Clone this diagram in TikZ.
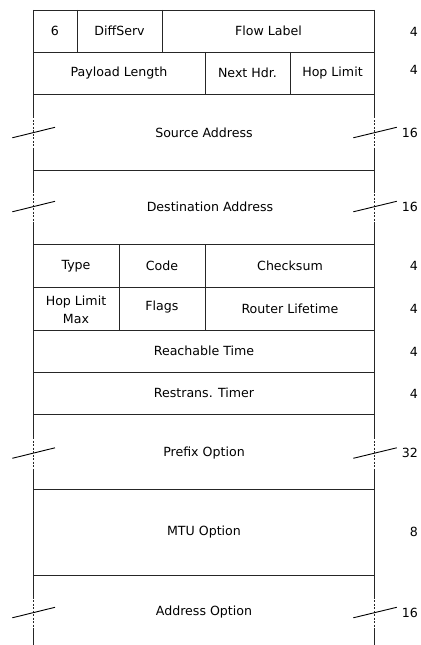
\documentclass[tikz,border=0pt]{standalone}
\usepackage{fontspec}
\setmainfont{DejaVu Sans}
\newcommand\fsz{\fontsize{12.6bp}{18bp}\selectfont}
\tikzset{
  frame/.style={line width=0.9bp, draw=black!85},
  gapline/.style={line width=0.9bp, draw=black!85, dash pattern=on 2bp off 1.5bp},
  slashmark/.style={line width=0.9bp, draw=black},
  lbl/.style={font=\fsz, inner sep=0pt, align=center},
  sizelbl/.style={font=\fsz, inner sep=0pt, anchor=east}
}
\begin{document}
\begin{tikzpicture}[x=1bp,y=-1bp]
\useasboundingbox (0,0) rectangle (420,645);
% horizontal lines
\foreach \yy in {10,52,94,170,244,287,330,372,414,489,575}
  \draw[frame] (33,\yy) -- (374.5,\yy);
% side lines: solid parts
\foreach \xx in {33,374.5}{
  \draw[frame] (\xx,10) -- (\xx,116.5);
  \draw[gapline] (\xx,116.5) -- (\xx,148.5);
  \draw[frame] (\xx,148.5) -- (\xx,190.5);
  \draw[gapline] (\xx,190.5) -- (\xx,222.5);
  \draw[frame] (\xx,222.5) -- (\xx,437);
  \draw[gapline] (\xx,437) -- (\xx,469);
  \draw[frame] (\xx,469) -- (\xx,596.5);
  \draw[gapline] (\xx,596.5) -- (\xx,628.5);
  \draw[frame] (\xx,628.5) -- (\xx,645);
}
% inner vertical lines
\draw[frame] (77,10) -- (77,52);
\draw[frame] (162,10) -- (162,52);
\draw[frame] (205,52) -- (205,94);
\draw[frame] (290,52) -- (290,94);
\draw[frame] (119,244) -- (119,330);
\draw[frame] (205,244) -- (205,330);
% slash marks
\foreach \c in {132.5,206.5,453,612.5}{
  \draw[slashmark] (12.3,\c+5.3) -- (55,\c-5.2);
  \draw[slashmark] (353.3,\c+5.3) -- (396.7,\c-5.2);
}
% field labels
\node[lbl] (ver) at (55,31) {6};
\node[lbl] (ds) at (119.5,31) {DiffServ};
\node[lbl] (fl) at (268.5,31) {Flow Label};
\node[lbl] (pl) at (119,73) {Payload Length};
\node[lbl] (nh) at (247.5,73) {Next Hdr.};
\node[lbl] (hl) at (332.5,73) {Hop Limit};
\node[lbl] (src) at (204,132.5) {Source Address};
\node[lbl] (dst) at (210,206.5) {Destination Address};
\node[lbl] (type) at (76,266) {Type};
\node[lbl] (code) at (162,266) {Code};
\node[lbl] (cks) at (290,266) {Checksum};
\node[lbl] (hlm) at (76,309.5) {Hop Limit\\Max};
\node[lbl] (flags) at (162,307) {Flags};
\node[lbl] (rlt) at (290,308.5) {Router Lifetime};
\node[lbl] (rt) at (204,351) {Reachable Time};
\node[lbl] (rtt) at (204,393) {Restrans. Timer};
\node[lbl] (pfx) at (204,453) {Prefix Option};
\node[lbl] (mtu) at (204,532) {MTU Option};
\node[lbl] (addr) at (204,612.5) {Address Option};
% size labels
\node[sizelbl] (s1) at (418,31.5) {4};
\node[sizelbl] (s2) at (418,69.5) {4};
\node[sizelbl] (s3) at (418,132.5) {16};
\node[sizelbl] (s4) at (418,206.5) {16};
\node[sizelbl] (s5) at (418,266) {4};
\node[sizelbl] (s6) at (418,309) {4};
\node[sizelbl] (s7) at (418,351.5) {4};
\node[sizelbl] (s8) at (418,393.5) {4};
\node[sizelbl] (s9) at (418,453) {32};
\node[sizelbl] (s10) at (418,532) {8};
\node[sizelbl] (s11) at (418,612.5) {16};
\end{tikzpicture}
\end{document}
